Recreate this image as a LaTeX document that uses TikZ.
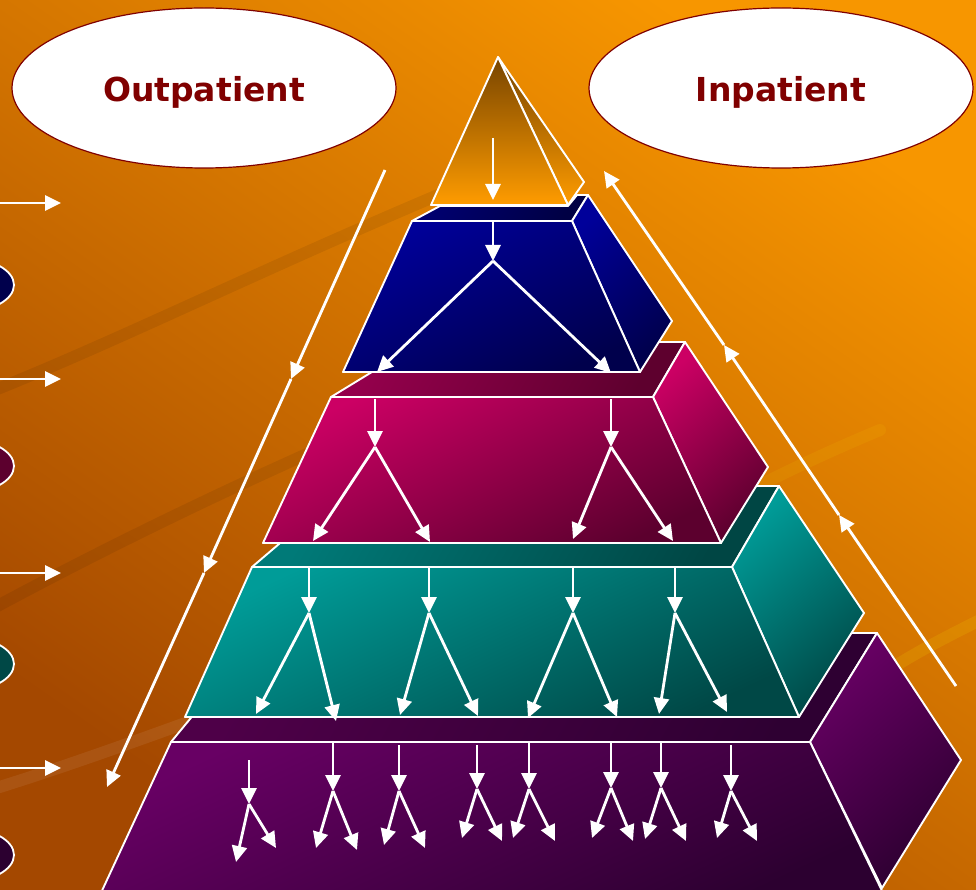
\documentclass[tikz,border=0pt]{standalone}
\usepackage{fontspec}
\newfontfamily\labfont{DejaVu Sans}
\usetikzlibrary{arrows.meta,shapes.geometric}
\definecolor{bgtop}{HTML}{F79600}
\definecolor{bgbot}{HTML}{A44800}
\definecolor{labred}{HTML}{800000}
\definecolor{bluA}{HTML}{00009A}
\definecolor{bluB}{HTML}{00004C}
\definecolor{bluT}{HTML}{000070}
\definecolor{bluU}{HTML}{000044}
\definecolor{magA}{HTML}{CC0064}
\definecolor{magB}{HTML}{5C002E}
\definecolor{magT}{HTML}{94004C}
\definecolor{magU}{HTML}{5E002E}
\definecolor{teaA}{HTML}{009C98}
\definecolor{teaB}{HTML}{004846}
\definecolor{teaT}{HTML}{007A78}
\definecolor{teaU}{HTML}{004644}
\definecolor{purA}{HTML}{680064}
\definecolor{purB}{HTML}{2C0030}
\definecolor{purT}{HTML}{4E0048}
\definecolor{purU}{HTML}{2E0032}
\definecolor{triA}{HTML}{774400}
\definecolor{triB}{HTML}{FF9C00}
\begin{document}
\begin{tikzpicture}[x=1pt,y=-1pt,
  face/.style={draw=white, line width=1.9pt, line join=round},
  arr/.style={draw=white, line width=2.8pt, -{Triangle[width=15pt,length=16pt]}},
  pill/.style={ellipse, draw=white, line width=1.8pt, minimum width=100pt, minimum height=54pt, inner sep=0pt},
  tag/.style={ellipse, draw=labred, line width=1.2pt, fill=white, minimum width=384pt, minimum height=160pt,
     inner sep=0pt, font=\labfont\bfseries\fontsize{33}{33}\selectfont, text=labred, text height=28pt, text depth=0pt},
  band/.style={line width=12pt, line cap=round}
]
\useasboundingbox (0,0) rectangle (976,890);
\clip (0,0) rectangle (976,890);
% background
\path[top color=bgtop, bottom color=bgbot, shading angle=-35] (0,0) rectangle (976,890);
\draw[band, black, opacity=0.07] (-10,392) .. controls (120,340) and (260,270) .. (450,190);
\draw[band, black, opacity=0.07] (-10,610) .. controls (120,540) and (300,450) .. (600,330);
\draw[band, white, opacity=0.07] (-10,790) .. controls (120,750) and (300,680) .. (520,600);
\draw[band, yellow, opacity=0.12] (860,690) .. controls (900,660) and (940,640) .. (990,615);
\draw[band, yellow, opacity=0.08] (740,495) .. controls (780,475) and (820,455) .. (880,430);

% labels
\node[tag] (outp) at (204,88) {Outpatient};
\node[tag] (inp) at (781,88) {Inpatient};

% left edge pills
\node[pill, fill=bluB] (pb) at (-36,285) {};
\node[pill, fill=magB] (pm) at (-36,466) {};
\node[pill, fill=teaB] (pt) at (-36,664) {};
\node[pill, fill=purB] (pp) at (-36,855) {};

% left edge arrows
\foreach \i/\y in {1/203,2/379,3/573,4/768}{
  \coordinate (es\i) at (-4,\y);
  \coordinate (ee\i) at (61,\y);
  \draw[arr] (es\i) -- (ee\i);
}

% outline arrows
\coordinate (L0) at (385,170);
\coordinate (L1) at (291,379);
\coordinate (L2) at (204,573);
\coordinate (L3) at (107,787);
\draw[arr] (L0) -- (L1);
\draw[arr] (L1) -- (L2);
\draw[arr] (L2) -- (L3);
\coordinate (R0) at (956,686);
\coordinate (R1) at (839,515);
\coordinate (R2) at (724,345);
\coordinate (R3) at (604,171);
\draw[arr] (R0) -- (R1);
\draw[arr] (R1) -- (R2);
\draw[arr] (R2) -- (R3);

% ===== purple level
\path[face, top color=purT, bottom color=purU, shading angle=60] (171,742) -- (261,633) -- (877,633) -- (810,742) -- cycle;
\path[face, top color=purA, bottom color=purB, shading angle=40] (810,742) -- (877,633) -- (961,760) -- (882,888) -- cycle;
\path[face, top color=purA, bottom color=purB, shading angle=25] (171,742) -- (810,742) -- (884,895) -- (100,895) -- cycle;
% ===== teal level
\path[face, top color=teaT, bottom color=teaU, shading angle=60] (252,567) -- (347,486) -- (779,486) -- (732,567) -- cycle;
\path[face, top color=teaA, bottom color=teaB, shading angle=40] (732,567) -- (779,486) -- (864,613) -- (799,717) -- cycle;
\path[face, top color=teaA, bottom color=teaB, shading angle=25] (252,567) -- (732,567) -- (799,717) -- (185,717) -- cycle;
% ===== magenta level
\path[face, top color=magT, bottom color=magU, shading angle=60] (331,397) -- (421,342) -- (685,342) -- (653,397) -- cycle;
\path[face, top color=magA, bottom color=magB, shading angle=40] (653,397) -- (685,342) -- (768,467) -- (721,543) -- cycle;
\path[face, top color=magA, bottom color=magB, shading angle=25] (331,397) -- (653,397) -- (721,543) -- (263,543) -- cycle;
% ===== blue level
\path[face, top color=bluT, bottom color=bluU, shading angle=60] (412,221) -- (440,206) -- (568,206) -- (577,195) -- (588,195) -- (572,221) -- cycle;
\path[face, top color=bluA, bottom color=bluB, shading angle=40] (572,221) -- (588,195) -- (672,321) -- (640,372) -- cycle;
\path[face, top color=bluA, bottom color=bluB, shading angle=25] (412,221) -- (572,221) -- (640,372) -- (343,372) -- cycle;
% ===== apex
\path[face, top color=triA, bottom color=triB] (498,57) -- (584,182) -- (568,205) -- cycle;
\path[face, top color=triA, bottom color=triB] (498,57) -- (568,205) -- (431,205) -- cycle;

% apex arrow
\coordinate (a0) at (493,138);
\coordinate (a1) at (493,200);
\draw[arr] (a0) -- (a1);

% blue arrows
\coordinate (b0) at (493,222);
\coordinate (b1) at (493,261);
\coordinate (bl) at (377,372);
\coordinate (br) at (611,373);
\draw[arr] (b0) -- (b1);
\draw[arr] (b1) -- (bl);
\draw[arr] (b1) -- (br);

% magenta arrows
\foreach \i/\x/\xl/\yl/\xr/\yr in {1/375/313/541/430/542, 2/611/573/539/673/541}{
  \coordinate (m\i t) at (\x,399);
  \coordinate (m\i s) at (\x,447);
  \coordinate (m\i l) at (\xl,\yl);
  \coordinate (m\i r) at (\xr,\yr);
  \draw[arr] (m\i t) -- (m\i s);
  \draw[arr] (m\i s) -- (m\i l);
  \draw[arr] (m\i s) -- (m\i r);
}

% teal arrows
\foreach \i/\x/\xl/\yl/\xr/\yr in {1/309/256/714/336/721, 2/429/400/715/478/716, 3/573/528/718/617/717, 4/675/659/714/727/712}{
  \coordinate (t\i t) at (\x,568);
  \coordinate (t\i s) at (\x,613);
  \coordinate (t\i l) at (\xl,\yl);
  \coordinate (t\i r) at (\xr,\yr);
  \draw[arr] (t\i t) -- (t\i s);
  \draw[arr] (t\i s) -- (t\i l);
  \draw[arr] (t\i s) -- (t\i r);
}

% purple arrows
\foreach \i/\x/\yt/\ys/\xl/\yl/\xr/\yr in {1/249/760/804/236/862/276/848, 2/333/743/791/316/848/357/850,
   3/399/745/791/384/845/425/848, 4/477/745/789/462/838/502/841, 5/529/743/789/513/838/555/841,
   6/611/743/788/592/838/633/841, 7/661/743/788/645/839/686/841, 8/731/745/791/717/838/757/841}{
  \coordinate (p\i t) at (\x,\yt);
  \coordinate (p\i s) at (\x,\ys);
  \coordinate (p\i l) at (\xl,\yl);
  \coordinate (p\i r) at (\xr,\yr);
  \draw[arr] (p\i t) -- (p\i s);
  \draw[arr] (p\i s) -- (p\i l);
  \draw[arr] (p\i s) -- (p\i r);
}
\end{tikzpicture}
\end{document}
